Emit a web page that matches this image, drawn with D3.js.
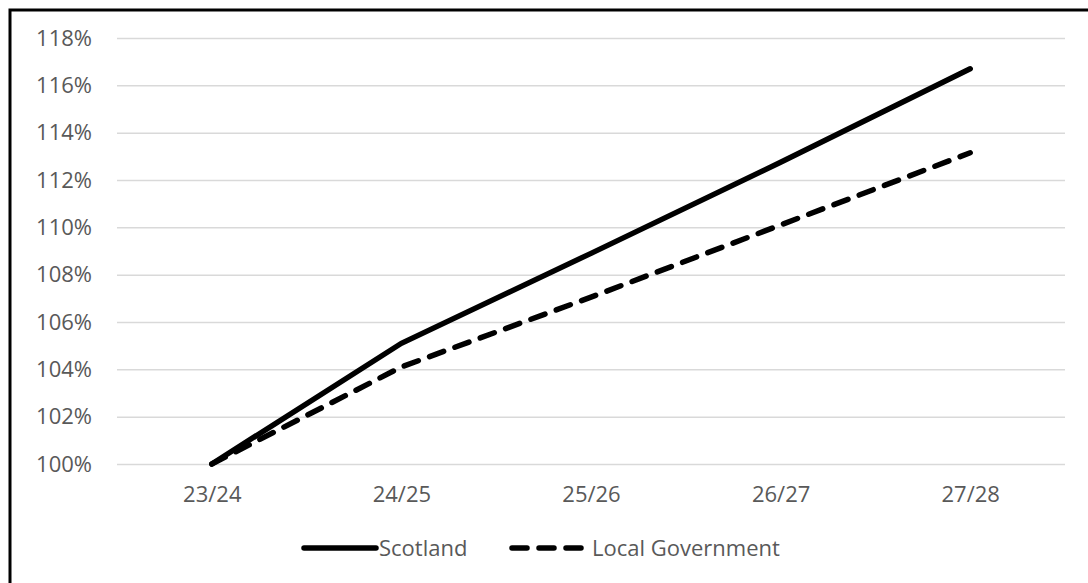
<!DOCTYPE html>
<html>
<head>
<meta charset="utf-8">
<script src="https://cdn.jsdelivr.net/npm/d3@7"></script>
<style>
  body { margin: 0; background: #fff; }
  svg text { font-family: "Open Sans", sans-serif; fill: #595959; }
</style>
</head>
<body>
<svg id="chart" width="1088" height="583"></svg>
<script>
// chart data
var years = ["23/24", "24/25", "25/26", "26/27", "27/28"];
var scotland = [100, 105.1, 108.9, 112.75, 116.7];
var localGov = [100, 104.1, 107.05, 110.1, 113.15];
var yTicks = [100, 102, 104, 106, 108, 110, 112, 114, 116, 118];

var svg = d3.select("#chart");

// outer frame (cut off at right and bottom like the original)
svg.append("rect")
  .attr("x", 10).attr("y", 10)
  .attr("width", 1100).attr("height", 600)
  .attr("fill", "none")
  .attr("stroke", "#000")
  .attr("stroke-width", 3);

var x = d3.scalePoint()
  .domain(years)
  .range([117, 1065])
  .padding(0.5);

var y = d3.scaleLinear()
  .domain([100, 118])
  .range([464, 38]);

// gridlines + y labels
var yAxis = svg.append("g")
  .call(d3.axisLeft(y).tickValues(yTicks)
    .tickSize(-(1065 - 117))
    .tickFormat(function(d) { return d + "%"; }))
  .attr("transform", "translate(117,0)");
yAxis.select(".domain").remove();
yAxis.selectAll("line").attr("stroke", "#d9d9d9").attr("stroke-width", 1.5);
yAxis.selectAll("text")
  .attr("x", -25)
  .attr("font-size", 22)
  .attr("fill", "#595959");

// x labels
var xAxis = svg.append("g")
  .attr("transform", "translate(0,464)")
  .call(d3.axisBottom(x).tickSize(0));
xAxis.select(".domain").remove();
xAxis.selectAll("text")
  .attr("y", 22)
  .attr("font-size", 22)
  .attr("fill", "#595959");

var line = d3.line()
  .x(function(d, i) { return x(years[i]); })
  .y(function(d) { return y(d); });

svg.append("path")
  .datum(localGov)
  .attr("d", line)
  .attr("fill", "none")
  .attr("stroke", "#000")
  .attr("stroke-width", 5.5)
  .attr("stroke-linecap", "round")
  .attr("stroke-dasharray", "15,12");

svg.append("path")
  .datum(scotland)
  .attr("d", line)
  .attr("fill", "none")
  .attr("stroke", "#000")
  .attr("stroke-width", 5.5)
  .attr("stroke-linecap", "round");

// legend
var legend = svg.append("g");
legend.append("line")
  .attr("x1", 304).attr("x2", 376)
  .attr("y1", 548).attr("y2", 548)
  .attr("stroke", "#000").attr("stroke-width", 5.5)
  .attr("stroke-linecap", "round");
legend.append("text")
  .attr("x", 379).attr("y", 548)
  .attr("dy", "0.35em")
  .attr("font-size", 22)
  .text("Scotland");
legend.append("line")
  .attr("x1", 512).attr("x2", 582)
  .attr("y1", 548).attr("y2", 548)
  .attr("stroke", "#000").attr("stroke-width", 5.5)
  .attr("stroke-linecap", "round")
  .attr("stroke-dasharray", "15,12");
legend.append("text")
  .attr("x", 592).attr("y", 548)
  .attr("dy", "0.35em")
  .attr("font-size", 22)
  .text("Local Government");
</script>
</body>
</html>
